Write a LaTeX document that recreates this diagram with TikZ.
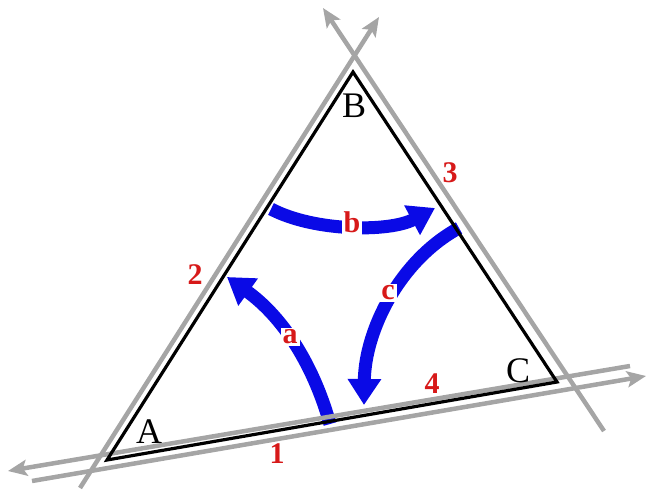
\documentclass[tikz,border=0pt]{standalone}
\usepackage{fontspec}
\setmainfont{Liberation Serif}
\usetikzlibrary{arrows.meta}
\definecolor{lgray}{RGB}{165,165,165}
\definecolor{fblue}{RGB}{10,10,230}
\definecolor{lred}{RGB}{215,25,25}
\tikzset{
  greyline/.style={draw=lgray, line width=4.5pt},
  greyarrow/.style={greyline, -{Stealth[length=19pt,width=16pt,inset=4pt]}},
  triline/.style={draw=black, line width=3.2pt, line join=miter},
  bluearrow/.style={draw=fblue, line width=13pt, -{Triangle[length=26pt,width=32pt]}},
  vlabel/.style={font=\fontsize{36}{36}\selectfont, anchor=base, inner sep=0pt},
  rlabel/.style={font=\fontsize{30}{30}\selectfont\bfseries, text=lred, inner sep=1pt},
  alabel/.style={rlabel, fill=white, inner sep=2pt}
}
\begin{document}
\begin{tikzpicture}[x=1pt,y=-1pt]
\useasboundingbox (0,0) rectangle (647,494);
% vertices
\coordinate (A) at (107,460);
\coordinate (B) at (353,72);
\coordinate (C) at (557,382);
% grey line ends
\coordinate (L1) at (80,488);  \coordinate (L2) at (379,17);
\coordinate (R1) at (604,431); \coordinate (R2) at (323,8);
\coordinate (U1) at (630,366); \coordinate (U2) at (8,471);
\coordinate (D1) at (32,481);  \coordinate (D2) at (646,376);
% blue arrow ends
\coordinate (a0) at (330,424); \coordinate (a1) at (227,277);
\coordinate (b0) at (271,209); \coordinate (b1) at (435,208);
\coordinate (c0) at (459,228); \coordinate (c1) at (364,405);
% blue arrows
\draw[bluearrow] (a0) .. controls (312,360) and (280,315) .. (a1);
\draw[bluearrow] (b0) .. controls (315,232) and (390,232) .. (b1);
\draw[bluearrow] (c0) .. controls (400,260) and (365,330) .. (c1);
% grey lines
\draw[greyarrow] (L1) -- (L2);
\draw[greyarrow] (R1) -- (R2);
\draw[greyarrow] (U1) -- (U2);
\draw[greyarrow] (D1) -- (D2);
% triangle
\draw[triline] (A) -- (B) -- (C) -- cycle;
% vertex labels
\node[vlabel] (lA) at (149,443) {A};
\node[vlabel] (lB) at (354,118) {B};
\node[vlabel] (lC) at (518,382) {C};
% side numbers
\node[rlabel] (n1) at (277,454) {1};
\node[rlabel] (n2) at (195,275) {2};
\node[rlabel] (n3) at (450,173) {3};
\node[rlabel] (n4) at (432,384) {4};
% arrow labels
\node[alabel] (la) at (290,337) {a};
\node[alabel] (lb) at (352,222) {b};
\node[alabel] (lc) at (388,293) {c};
\end{tikzpicture}
\end{document}
